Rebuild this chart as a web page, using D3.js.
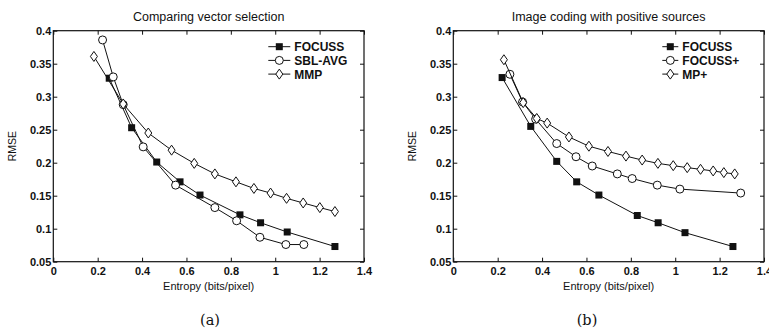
<!DOCTYPE html>
<html>
<head>
<meta charset="utf-8">
<script src="https://cdn.jsdelivr.net/npm/d3@7"></script>
<style>
  body { margin: 0; background: #fff; }
  text { font-family: "Liberation Sans", Arial, sans-serif; fill: #111; }
</style>
</head>
<body>
<svg id="fig" width="769" height="328"></svg>
<script>
// panel (a): comparing vector selection
const focussA_x = [0.252, 0.353, 0.466, 0.571, 0.661, 0.841, 0.934, 1.054, 1.269];
const focussA_y = [0.328, 0.253, 0.201, 0.171, 0.151, 0.121, 0.109, 0.095, 0.073];
const sblA_x = [0.222, 0.270, 0.315, 0.405, 0.551, 0.728, 0.826, 0.931, 1.048, 1.129];
const sblA_y = [0.386, 0.330, 0.288, 0.224, 0.166, 0.132, 0.112, 0.087, 0.076, 0.076];
const mmpA_x = [0.183, 0.315, 0.428, 0.533, 0.635, 0.728, 0.823, 0.904, 0.979, 1.051, 1.126, 1.201, 1.269];
const mmpA_y = [0.361, 0.289, 0.245, 0.219, 0.199, 0.183, 0.171, 0.161, 0.154, 0.146, 0.139, 0.132, 0.126];

// panel (b): image coding with positive sources
const focussB_x = [0.22, 0.349, 0.466, 0.556, 0.656, 0.829, 0.923, 1.044, 1.260];
const focussB_y = [0.329, 0.255, 0.202, 0.171, 0.151, 0.120, 0.109, 0.094, 0.073];
const focussPlus_x = [0.255, 0.312, 0.371, 0.466, 0.553, 0.626, 0.739, 0.806, 0.919, 1.021, 1.295];
const focussPlus_y = [0.334, 0.292, 0.266, 0.229, 0.209, 0.195, 0.183, 0.176, 0.166, 0.160, 0.154];
const mpPlus_x = [0.228, 0.315, 0.376, 0.423, 0.521, 0.611, 0.697, 0.778, 0.851, 0.922, 0.991, 1.054, 1.114, 1.171, 1.219, 1.268];
const mpPlus_y = [0.356, 0.291, 0.267, 0.260, 0.239, 0.225, 0.217, 0.210, 0.204, 0.199, 0.1955, 0.1925, 0.190, 0.1875, 0.185, 0.183];

const xTicks = [0, 0.2, 0.4, 0.6, 0.8, 1, 1.2, 1.4];
const yTicks = [0.05, 0.1, 0.15, 0.2, 0.25, 0.3, 0.35, 0.4];

const svg = d3.select('#fig');

function zip(xs, ys) { return xs.map((x, i) => [x, ys[i]]); }

function drawPanel(left, title, caption, captionX, legend, series) {
    let top = 30.7, bottom = 261.7, width = 310.7;
    let g = svg.append('g');
    let x = d3.scaleLinear().domain([0, 1.4]).range([left, left + width]);
    let y = d3.scaleLinear().domain([0.05, 0.4]).range([bottom, top]);

    // frame with inward ticks on all sides
    g.append('rect')
        .attr('x', left).attr('y', top)
        .attr('width', width).attr('height', bottom - top)
        .attr('fill', 'none').attr('stroke', '#111').attr('stroke-width', 1.2);

    let fmt = d => String(+d.toFixed(2));
    g.append('g').attr('transform', `translate(0,${bottom})`)
        .call(d3.axisBottom(x).tickValues(xTicks).tickSize(-4).tickPadding(6).tickFormat(fmt));
    g.append('g').attr('transform', `translate(0,${top})`)
        .call(d3.axisTop(x).tickValues(xTicks).tickSize(-4).tickFormat(''));
    g.append('g').attr('transform', `translate(${left},0)`)
        .call(d3.axisLeft(y).tickValues(yTicks).tickSize(-4).tickPadding(2).tickFormat(fmt));
    g.append('g').attr('transform', `translate(${left + width},0)`)
        .call(d3.axisRight(y).tickValues(yTicks).tickSize(-4).tickFormat(''));
    g.selectAll('.domain').remove();
    g.selectAll('.tick line').attr('stroke', '#111');
    g.selectAll('.tick text').attr('font-size', 11).attr('font-weight', 'bold').attr('fill', '#111')
        .attr('font-family', '"Liberation Sans", Arial, sans-serif');

    g.append('text').attr('x', left + width / 2).attr('y', 21)
        .attr('text-anchor', 'middle').attr('font-size', 12.5).text(title);
    g.append('text').attr('x', left + width / 2).attr('y', 290)
        .attr('text-anchor', 'middle').attr('font-size', 11).text('Entropy (bits/pixel)');
    g.append('text').attr('transform', `translate(${left - 37},${(top + bottom) / 2}) rotate(-90)`)
        .attr('text-anchor', 'middle').attr('font-size', 10.5).text('RMSE');
    g.append('text').attr('x', captionX).attr('y', 325)
        .attr('text-anchor', 'middle').attr('font-size', 14.5)
        .style('font-family', '"DejaVu Serif", "Liberation Serif", serif').text(caption);

    let line = d3.line().x(d => x(d[0])).y(d => y(d[1]));
    series.forEach((s, k) => {
        let pts = zip(s.xs, s.ys);
        g.append('path').datum(pts).attr('d', line)
            .attr('fill', 'none').attr('stroke', '#111').attr('stroke-width', 1);
        drawMarkers(g, pts.map(p => [x(p[0]), y(p[1])]), s.marker);

        // legend row
        let ly = 46.7 + k * 13.7, lx = left + legend.dx;
        g.append('line').attr('x1', lx).attr('x2', lx + legend.len).attr('y1', ly).attr('y2', ly)
            .attr('stroke', '#111').attr('stroke-width', 1);
        drawMarkers(g, [[lx + legend.len / 2, ly]], s.marker);
        g.append('text').attr('x', lx + legend.len + 4).attr('y', ly + 4.5)
            .attr('font-size', 12).attr('font-weight', 'bold').text(s.name);
    });
}

function drawMarkers(g, pts, kind) {
    if (kind === 'square') {
        g.selectAll(null).data(pts).enter().append('rect')
            .attr('x', d => d[0] - 3.5).attr('y', d => d[1] - 3.5)
            .attr('width', 7).attr('height', 7).attr('fill', '#111');
    } else if (kind === 'circle') {
        g.selectAll(null).data(pts).enter().append('circle')
            .attr('cx', d => d[0]).attr('cy', d => d[1]).attr('r', 4)
            .attr('fill', '#fff').attr('stroke', '#111').attr('stroke-width', 1);
    } else {
        g.selectAll(null).data(pts).enter().append('path')
            .attr('d', d => `M${d[0]},${d[1] - 5}L${d[0] + 3.5},${d[1]}L${d[0]},${d[1] + 5}L${d[0] - 3.5},${d[1]}Z`)
            .attr('fill', '#fff').attr('stroke', '#111').attr('stroke-width', 1);
    }
}

drawPanel(53.3, 'Comparing vector selection', '(a)', 210, {dx: 215, len: 22}, [
    {name: 'FOCUSS', xs: focussA_x, ys: focussA_y, marker: 'square'},
    {name: 'SBL-AVG', xs: sblA_x, ys: sblA_y, marker: 'circle'},
    {name: 'MMP', xs: mmpA_x, ys: mmpA_y, marker: 'diamond'}
]);
drawPanel(453.3, 'Image coding with positive sources', '(b)', 587, {dx: 209, len: 16}, [
    {name: 'FOCUSS', xs: focussB_x, ys: focussB_y, marker: 'square'},
    {name: 'FOCUSS+', xs: focussPlus_x, ys: focussPlus_y, marker: 'circle'},
    {name: 'MP+', xs: mpPlus_x, ys: mpPlus_y, marker: 'diamond'}
]);
</script>
</body>
</html>
